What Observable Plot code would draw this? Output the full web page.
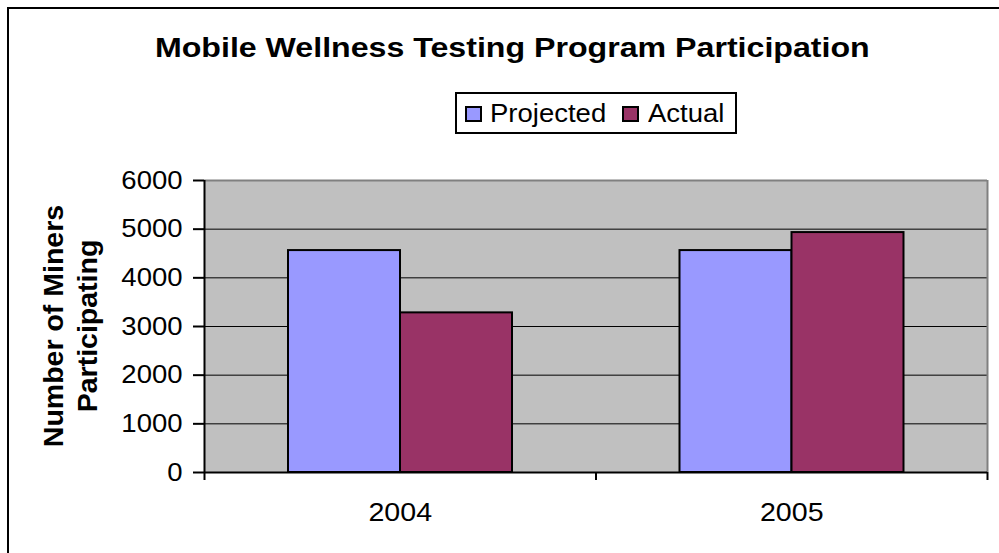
<!DOCTYPE html>
<html>
<head>
<meta charset="utf-8">
<script src="https://cdn.jsdelivr.net/npm/d3@7"></script>
<script src="https://cdn.jsdelivr.net/npm/@observablehq/plot@0.6"></script>
<style>
  html, body { margin: 0; padding: 0; background: #fff; }
  #wrap { position: relative; width: 999px; height: 553px; overflow: hidden; background: #fff;
          font-family: "Liberation Sans", Arial, sans-serif; color: #000; }
  #border { position: absolute; left: 7px; top: 7px; width: 1200px; height: 800px; border: 2px solid #000; box-sizing: border-box; }
  #chart { position: absolute; left: 0; top: 0; }
  #title { position: absolute; left: 0; width: 1025px; top: 35px; text-align: center; font-weight: bold;
           font-size: 27px; line-height: 27px; white-space: nowrap; }
  #title span { display: inline-block; transform: scaleX(1.19); transform-origin: 50% 50%; }
  #legend { position: absolute; left: 455px; top: 92px; width: 282px; height: 42px; border: 2px solid #000;
            box-sizing: border-box; background: #fff; }
  .sw { position: absolute; top: 12px; width: 17px; height: 16px; border: 2px solid #000; box-sizing: border-box; }
  .lt { position: absolute; top: 7px; font-size: 25px; line-height: 25px; white-space: nowrap;
        transform: scaleX(1.1); transform-origin: 0 50%; }
  #ylabel { position: absolute; left: 70px; top: 326px; font-weight: bold; font-size: 28.5px; line-height: 34px;
            text-align: center; white-space: nowrap; transform: translate(-50%, -50%) rotate(-90deg); }
</style>
</head>
<body>
<div id="wrap">
  <div id="chart"></div>
  <div id="border"></div>
  <div id="title"><span>Mobile Wellness Testing Program Participation</span></div>
  <div id="legend"></div>
  <div id="ylabel">Number of Miners<br>Participating</div>
</div>
<script>
// ---- data ----
const years = ["2004", "2005"];
const series = ["Projected", "Actual"];
const projected = [4560, 4560];
const actual = [3280, 4930];
const yTicks = [0, 1000, 2000, 3000, 4000, 5000, 6000];
const colors = ["#9999ff", "#993366"];

// ---- layout constants (fractions of a category slot) ----
const groupPad = 84 / 391.5;
const barW = 112 / 391.5;

const values = {Projected: projected, Actual: actual};
const bars = years.flatMap((yr, i) => series.map((s, j) => ({
  year: yr, i, j, series: s, value: values[s][i]
})));

const chart = Plot.plot({
  width: 999,
  height: 553,
  marginLeft: 204,
  marginRight: 12,
  marginTop: 180,
  marginBottom: 81,
  style: {fontFamily: "'Liberation Sans', Arial, sans-serif", fontSize: "25px", color: "black", background: "transparent", overflow: "visible"},
  x: {type: "linear", domain: [0, years.length], axis: null},
  y: {domain: [yTicks[0], yTicks[yTicks.length - 1]], axis: null},
  color: {domain: series, range: colors},
  marks: [
    Plot.frame({fill: "#c0c0c0"}),
    Plot.ruleY(yTicks.slice(1, -1), {stroke: "black", strokeWidth: 1}),
    Plot.ruleY([yTicks[yTicks.length - 1]], {stroke: "#808080", strokeWidth: 2}),
    Plot.ruleX([years.length], {stroke: "#808080", strokeWidth: 2}),
    Plot.rect(bars, {
      x1: d => d.i + groupPad + d.j * barW,
      x2: d => d.i + groupPad + (d.j + 1) * barW,
      y1: 0,
      y2: "value",
      fill: "series",
      stroke: "black",
      strokeWidth: 2
    }),
    Plot.ruleX([0], {stroke: "black", strokeWidth: 2}),
    Plot.ruleY([0], {stroke: "black", strokeWidth: 2}),
    Plot.axisY(yTicks, {tickSize: 11, tickPadding: 11, strokeWidth: 2, label: null, fontSize: 25, tickFormat: d => String(d)}),
    Plot.axisX(d3.range(years.length + 1), {tickSize: 8, strokeWidth: 2, tickFormat: () => "", label: null}),
    Plot.axisX(years.map((_, i) => i + 0.5), {tickSize: 0, tickPadding: 30, label: null, fontSize: 26, tickFormat: d => years[Math.floor(d)]})
  ]
});
document.getElementById("chart").appendChild(chart);

// stretch tick labels slightly horizontally, like the reference
chart.querySelectorAll("g[aria-label$='tick label'] text").forEach(t => {
  const tr = t.getAttribute("transform");
  if (tr) t.setAttribute("transform", tr + " scale(1.1,1)");
});

// legend built from series/colors
const legend = document.getElementById("legend");
const swX = [8, 165];
const txX = [33, 191];
series.forEach((s, k) => {
  const sw = document.createElement("div");
  sw.className = "sw";
  sw.style.left = swX[k] + "px";
  sw.style.background = colors[k];
  legend.appendChild(sw);
  const tx = document.createElement("div");
  tx.className = "lt";
  tx.style.left = txX[k] + "px";
  tx.textContent = s;
  legend.appendChild(tx);
});
</script>
</body>
</html>
